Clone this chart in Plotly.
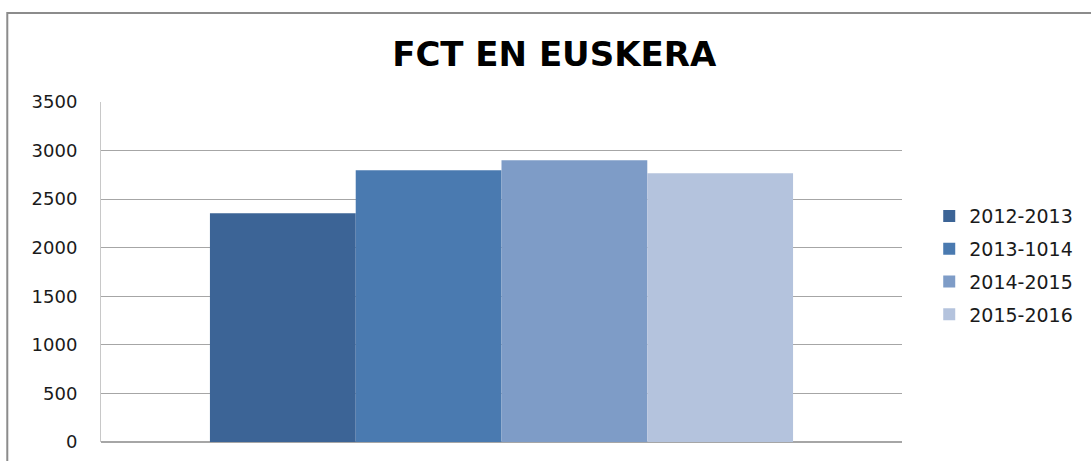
import plotly.graph_objects as go

categories = ["FCT EN EUSKERA"]
series_names = ["2012-2013", "2013-1014", "2014-2015", "2015-2016"]
series_values = [[2356], [2798], [2901], [2767]]
colors = ["#3C6496", "#4A7AB0", "#7E9CC7", "#B4C3DD"]
y_ticks = [0, 500, 1000, 1500, 2000, 2500, 3000, 3500]

fig = go.Figure()
for name, vals, c in zip(series_names, series_values, colors):
    fig.add_trace(go.Bar(x=categories, y=vals, name=name, legendgroup=name,
                         marker=dict(color=c, line=dict(width=0))))

fig.update_layout(
    width=1091, height=461,
    barmode="group", bargap=0.272, bargroupgap=0,
    plot_bgcolor="white", paper_bgcolor="white",
    margin=dict(l=101, r=189, t=102, b=19, autoexpand=False),
    title=dict(text="<b>FCT EN EUSKERA</b>", x=0.508, xanchor="center", y=0.883, yanchor="middle",
               font=dict(family="DejaVu Sans", size=34, color="black")),
    font=dict(family="DejaVu Sans", color="#1a1a1a"),
    legend=dict(x=1.034, y=0.52, xanchor="left", yanchor="middle", font=dict(size=19, color="#1a1a1a"),
                traceorder="grouped", tracegroupgap=5, itemwidth=30, bgcolor="rgba(0,0,0,0)"),
    showlegend=True,
)
fig.update_xaxes(showticklabels=False, showgrid=False, zeroline=False, showline=False)
fig.update_yaxes(range=[0, 3500], tickvals=y_ticks, showgrid=True, gridcolor="#A6A6A6", gridwidth=1,
                 zeroline=True, zerolinecolor="#A6A6A6", showline=True, linecolor="#C8C8C8",
                 tickfont=dict(size=18, color="#1a1a1a"), ticklabelstandoff=19)
fig.add_shape(type="rect", xref="paper", yref="paper", x0=-0.117, x1=1.3, y0=-0.2, y1=1.262,
              line=dict(color="#8C8C8C", width=2), fillcolor="rgba(0,0,0,0)", layer="below")
fig.write_html("out.html", config={"displayModeBar": False},
               post_script="document.body.style.margin='0';")
